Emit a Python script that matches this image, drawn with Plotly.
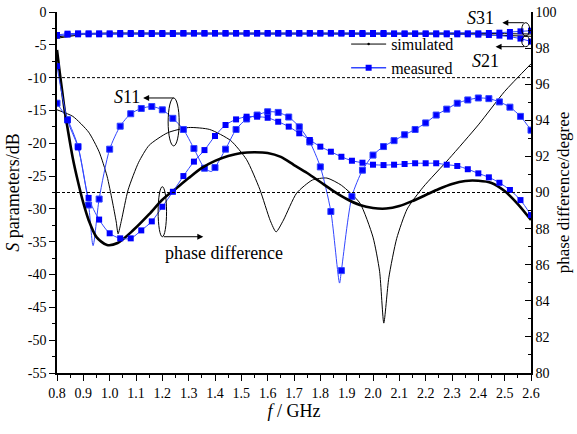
import plotly.graph_objects as go

# ---------------- data ----------------
# measured frequencies (GHz), one point every 0.04 GHz
freq_meas = [0.80, 0.84, 0.88, 0.92, 0.96, 1.00, 1.04, 1.08, 1.12, 1.16,
             1.20, 1.24, 1.28, 1.32, 1.36, 1.40, 1.44, 1.48, 1.52, 1.56,
             1.60, 1.64, 1.68, 1.72, 1.76, 1.80, 1.84, 1.88, 1.92, 1.96,
             2.00, 2.04, 2.08, 2.12, 2.16, 2.20, 2.24, 2.28, 2.32, 2.36,
             2.40, 2.44, 2.48, 2.52, 2.56, 2.60]

s11_meas = [-13.9, -16.4, -20.5, -29.4, -28.5, -20.9, -17.4, -15.5, -14.7, -14.4,
            -14.9, -16.2, -17.9, -20.8, -23.8, -23.7, -20.9, -17.9, -16.3, -15.7,
            -15.2, -15.3, -16.0, -17.5, -19.8, -23.6, -30.4, -39.4, -28.1, -24.1,
            -21.8, -20.5, -19.6, -18.7, -17.9, -16.9, -15.7, -14.8, -13.9, -13.4,
            -13.1, -13.2, -13.7, -14.5, -15.9, -18.0]
# sharp minima of measured S11 between marker points
s11_meas_dip_freq = [0.937, 1.387, 1.873]
s11_meas_dip = [-35.6, -24.3, -41.3]

s21_meas = [-3.6, -3.45, -3.4, -3.4, -3.4, -3.4, -3.4, -3.35, -3.35, -3.35,
            -3.35, -3.35, -3.3, -3.3, -3.3, -3.3, -3.3, -3.3, -3.3, -3.3,
            -3.3, -3.3, -3.3, -3.3, -3.3, -3.3, -3.3, -3.3, -3.35, -3.35,
            -3.35, -3.35, -3.35, -3.35, -3.35, -3.35, -3.4, -3.4, -3.4, -3.4,
            -3.45, -3.5, -3.6, -3.75, -4.05, -4.5]

s31_meas = [-3.5, -3.3, -3.25, -3.25, -3.25, -3.25, -3.2, -3.2, -3.2, -3.2,
            -3.2, -3.2, -3.2, -3.2, -3.2, -3.2, -3.2, -3.2, -3.2, -3.2,
            -3.2, -3.2, -3.2, -3.2, -3.2, -3.2, -3.2, -3.2, -3.2, -3.2,
            -3.2, -3.2, -3.25, -3.25, -3.25, -3.25, -3.25, -3.25, -3.25, -3.25,
            -3.25, -3.2, -3.15, -3.05, -2.95, -2.85]

phase_meas = [97.0, 94.0, 92.5, 89.7, 88.5, 87.74, 87.46, 87.46, 87.9, 88.4,
              89.21, 90.04, 90.91, 91.71, 92.35, 93.13, 93.74, 94.05, 94.2, 94.2,
              94.14, 93.92, 93.65, 93.28, 92.91, 92.54, 92.26, 91.98, 91.76, 91.65,
              91.54, 91.52, 91.54, 91.58, 91.62, 91.62, 91.62, 91.54, 91.47, 91.29,
              91.06, 90.84, 90.54, 90.14, 89.58, 88.75]

# simulated curves
freq_sim_s11 = [0.80, 0.86, 0.92, 0.96, 0.99, 1.01, 1.025, 1.032, 1.045, 1.07,
                1.11, 1.15, 1.22, 1.30, 1.38, 1.46, 1.52, 1.57, 1.61, 1.632,
                1.66, 1.71, 1.77, 1.825, 1.88, 1.95, 2.00, 2.025, 2.041, 2.06,
                2.09, 2.13, 2.19, 2.29, 2.40, 2.50, 2.60]
s11_sim = [-14.9, -15.9, -18.3, -21.3, -25.0, -28.8, -32.0, -33.8, -31.7, -27.1,
           -22.9, -20.3, -18.4, -17.6, -17.9, -19.6, -22.5, -27.0, -31.8, -33.5,
           -31.7, -27.6, -25.6, -25.3, -26.4, -29.1, -34.3, -39.5, -47.4, -40.5,
           -34.5, -30.0, -26.7, -22.3, -17.2, -12.1, -7.9]

freq_sim_phase = [0.80, 0.81, 0.82, 0.83, 0.84, 0.86, 0.88, 0.90, 0.92, 0.95,
                  0.99, 1.03, 1.09, 1.15, 1.20, 1.25, 1.30, 1.35, 1.40, 1.45,
                  1.50, 1.55, 1.60, 1.65, 1.70, 1.75, 1.80, 1.85, 1.90, 1.95,
                  2.00, 2.05, 2.10, 2.15, 2.20, 2.25, 2.30, 2.35, 2.40, 2.45,
                  2.50, 2.55, 2.60]
phase_sim = [97.9, 96.7, 95.57, 94.46, 93.57, 91.9, 90.58, 89.42, 88.48, 87.53,
             87.09, 87.2, 87.92, 88.8, 89.6, 90.2, 90.8, 91.36, 91.75, 92.02,
             92.19, 92.23, 92.19, 91.97, 91.52, 91.08, 90.58, 90.08, 89.64, 89.31,
             89.14, 89.11, 89.25, 89.53, 89.86, 90.19, 90.47, 90.64, 90.65, 90.53,
             90.08, 89.36, 88.48]

freq_sim_s21 = [0.8, 0.9, 1.0, 1.1, 1.2, 1.3, 1.4, 1.5, 1.6, 1.7,
                1.8, 1.9, 2.0, 2.1, 2.2, 2.3, 2.4, 2.5, 2.6]
s21_sim = [-4.0, -3.4, -3.3, -3.3, -3.3, -3.3, -3.3, -3.3, -3.3, -3.3,
           -3.3, -3.3, -3.35, -3.35, -3.4, -3.4, -3.45, -3.55, -3.7]
s31_sim = [-3.8, -3.3, -3.2, -3.2, -3.15, -3.15, -3.15, -3.15, -3.15, -3.15,
           -3.15, -3.2, -3.2, -3.2, -3.2, -3.25, -3.25, -3.3, -3.35]

y_left_ticks = [0, -5, -10, -15, -20, -25, -30, -35, -40, -45, -50, -55]
y_left_labels = ["0", "-5", "-10", "-15", "-20", "-25", "-30", "-35", "-40", "-45", "-50", "-55"]
x_ticks = [0.8, 0.9, 1.0, 1.1, 1.2, 1.3, 1.4, 1.5, 1.6, 1.7, 1.8, 1.9,
           2.0, 2.1, 2.2, 2.3, 2.4, 2.5, 2.6]
x_labels = ["0.8", "0.9", "1.0", "1.1", "1.2", "1.3", "1.4", "1.5", "1.6", "1.7",
            "1.8", "1.9", "2.0", "2.1", "2.2", "2.3", "2.4", "2.5", "2.6"]

# ---------------- styling ----------------
FONT = "Liberation Serif"
BLUE_LINE = "rgb(50,70,255)"
BLUE_MARK = "rgb(0,0,255)"
MSIZE = 6

fig = go.Figure()

# merge S11 measured points with the dip points (dips carry no marker)
pairs = sorted([(f, v, MSIZE) for f, v in zip(freq_meas, s11_meas)] +
               [(f, v, 0) for f, v in zip(s11_meas_dip_freq, s11_meas_dip)])
s11m_f = [p[0] for p in pairs]
s11m_v = [p[1] for p in pairs]
s11m_s = [p[2] for p in pairs]

# simulated S21/S31
for vals in (s21_sim, s31_sim):
    fig.add_trace(go.Scatter(x=freq_sim_s21, y=vals, mode="lines",
                             line=dict(color="black", width=1),
                             showlegend=False, hoverinfo="skip"))

# simulated S11 (thin)
fig.add_trace(go.Scatter(x=freq_sim_s11, y=s11_sim, mode="lines",
                         line=dict(color="black", width=1, shape="spline", smoothing=0.6),
                         showlegend=False))

# simulated phase difference (thick)
fig.add_trace(go.Scatter(x=freq_sim_phase, y=phase_sim, yaxis="y2", mode="lines",
                         line=dict(color="black", width=2.6, shape="spline", smoothing=0.8),
                         showlegend=False))

# measured S11
fig.add_trace(go.Scatter(x=s11m_f, y=s11m_v, mode="lines+markers",
                         line=dict(color=BLUE_LINE, width=1, shape="spline", smoothing=0.7),
                         marker=dict(symbol="square", size=s11m_s, color=BLUE_MARK, opacity=1),
                         showlegend=False))

# measured phase difference
fig.add_trace(go.Scatter(x=freq_meas, y=phase_meas, yaxis="y2", mode="lines+markers",
                         line=dict(color=BLUE_LINE, width=1, shape="spline", smoothing=0.8),
                         marker=dict(symbol="square", size=MSIZE, color=BLUE_MARK, opacity=1),
                         showlegend=False))

# measured S21/S31
for vals in (s21_meas, s31_meas):
    fig.add_trace(go.Scatter(x=freq_meas, y=vals, mode="lines+markers",
                             line=dict(color=BLUE_LINE, width=1),
                             marker=dict(symbol="square", size=MSIZE, color=BLUE_MARK, opacity=1),
                             showlegend=False))

# legend entries
fig.add_trace(go.Scatter(x=[None], y=[None], mode="lines+markers", name="simulated",
                         line=dict(color="black", width=1),
                         marker=dict(symbol="circle", size=2.5, color="black")))
fig.add_trace(go.Scatter(x=[None], y=[None], mode="lines+markers", name="measured",
                         line=dict(color=BLUE_LINE, width=1.5),
                         marker=dict(symbol="square", size=MSIZE, color=BLUE_MARK)))

# reference dashed lines, ellipses
shapes = [
    dict(type="line", xref="paper", x0=0, x1=1, yref="y", y0=-10, y1=-10,
         line=dict(color="black", width=1, dash="3px,2px")),
    dict(type="line", xref="paper", x0=0, x1=1, yref="y2", y0=90, y1=90,
         line=dict(color="black", width=1, dash="3px,2px")),
    dict(type="circle", xref="x", yref="y", x0=1.222, x1=1.264, y0=-20.4, y1=-13.1,
         line=dict(color="black", width=1)),
    dict(type="circle", xref="x", yref="y2", x0=1.184, x1=1.216, y0=87.55, y1=90.32,
         line=dict(color="black", width=1)),
    dict(type="circle", xref="x", yref="y", x0=2.565, x1=2.595, y0=-3.66, y1=-1.63,
         line=dict(color="black", width=1)),
    dict(type="circle", xref="x", yref="y", x0=2.565, x1=2.595, y0=-5.28, y1=-3.66,
         line=dict(color="black", width=1)),
]

arrow_kw = dict(showarrow=True, arrowhead=2, arrowsize=1.2, arrowwidth=1,
                arrowcolor="black", text="", standoff=0)
annotations = [
    dict(x=1.127, y=-13.1, xref="x", yref="y", ax=32, ay=0, **arrow_kw),
    dict(x=1.3556, y=87.55, xref="x", yref="y2", ax=-41, ay=0, **arrow_kw),
    dict(x=2.491, y=-1.63, xref="x", yref="y", ax=23, ay=0, **arrow_kw),
    dict(x=2.4655, y=-5.28, xref="x", yref="y", ax=30, ay=0, **arrow_kw),
    dict(x=1.124, y=-12.9, xref="x", yref="y", text="<i>S</i>11", showarrow=False,
         xanchor="right", yanchor="middle", font=dict(size=18)),
    dict(x=1.203, y=-36.7, xref="x", yref="y", text="phase difference", showarrow=False,
         xanchor="left", yanchor="middle", font=dict(size=18)),
    dict(x=2.41, y=-0.9, xref="x", yref="y", text="<i>S</i>31", showarrow=False,
         xanchor="center", yanchor="middle", font=dict(size=18)),
    dict(x=2.4275, y=-7.5, xref="x", yref="y", text="<i>S</i>21", showarrow=False,
         xanchor="center", yanchor="middle", font=dict(size=18)),
]

fig.update_layout(
    width=577, height=434,
    margin=dict(l=57, r=46, t=12, b=61, autoexpand=False),
    paper_bgcolor="white", plot_bgcolor="white",
    font=dict(family=FONT, size=14, color="black"),
    shapes=shapes, annotations=annotations,
    xaxis=dict(range=[0.8, 2.6], tickvals=x_ticks, ticktext=x_labels,
               ticks="outside", ticklen=6, tickwidth=1.2, tickcolor="black",
               minor=dict(dtick=0.05, tick0=0.8, ticks="outside", ticklen=3.5,
                          tickwidth=1.2, tickcolor="black"),
               showline=True, linewidth=1.5, linecolor="black",
               showgrid=False, zeroline=False, automargin=False,
               title=dict(text="<i>f</i> / GHz", font=dict(size=18), standoff=5)),
    yaxis=dict(range=[-55, 0], tickvals=y_left_ticks, ticktext=y_left_labels,
               ticks="outside", ticklen=6, tickwidth=1.2, tickcolor="black",
               minor=dict(dtick=2.5, tick0=0, ticks="outside", ticklen=3.5,
                          tickwidth=1.2, tickcolor="black"),
               showline=True, linewidth=1.5, linecolor="black",
               showgrid=False, zeroline=False, automargin=False,
               title=dict(text="<i>S</i> parameters/dB", font=dict(size=18), standoff=3)),
    yaxis2=dict(range=[80, 100], overlaying="y", side="right", dtick=2, tick0=80,
                ticks="inside", ticklen=6, tickwidth=1.2, tickcolor="black",
                minor=dict(dtick=1, ticks="inside", ticklen=3.5, tickwidth=1.2,
                           tickcolor="black"),
                showline=True, linewidth=1.5, linecolor="black",
                showgrid=False, zeroline=False, automargin=False,
                title=dict(text="phase difference/degree", font=dict(size=17), standoff=2)),
    legend=dict(x=0.61, y=0.958, xanchor="left", yanchor="top",
                bgcolor="rgba(0,0,0,0)", font=dict(size=16),
                itemwidth=35, tracegroupgap=0),
    showlegend=True,
)

fig.write_html("out.html", config={"displayModeBar": False},
               post_script="document.body.style.margin='0';document.body.style.overflow='hidden';")
